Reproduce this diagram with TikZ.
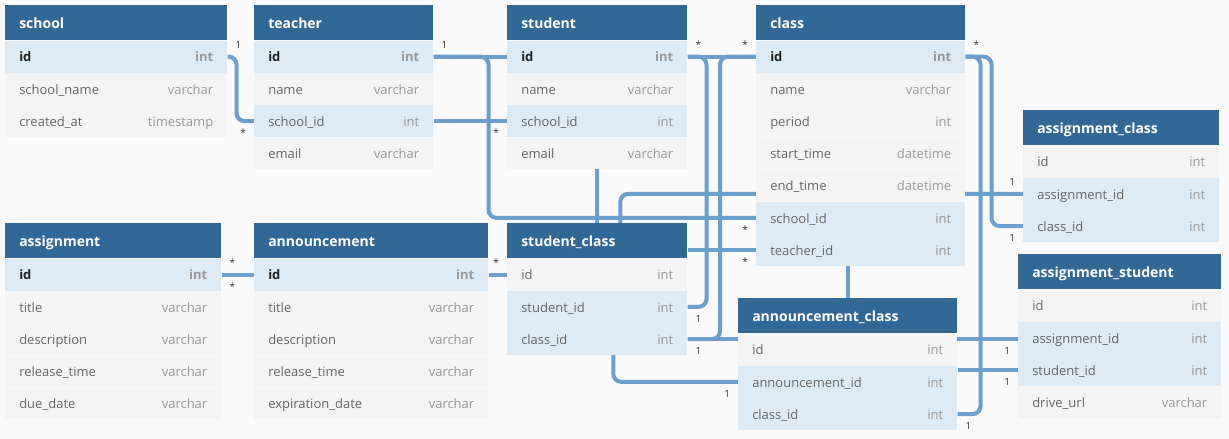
\documentclass[tikz,border=0pt]{standalone}
\usepackage{xcolor}
\usepackage{fontspec}
\setmainfont{Open Sans}
\usepackage{tikz}
\usetikzlibrary{positioning,calc}

\definecolor{hdrblue}{HTML}{316896}
\definecolor{keyrow}{HTML}{DEEBF5}
\definecolor{plainrow}{HTML}{F4F4F4}
\definecolor{canvas}{HTML}{FAFAFA}
\definecolor{linkblue}{HTML}{6B9FCF}
\definecolor{typegray}{HTML}{999999}
\definecolor{namegray}{HTML}{666666}
\definecolor{keytext}{HTML}{222222}
\definecolor{cardtext}{HTML}{333333}

\pgfdeclarelayer{bg}
\pgfsetlayers{bg,main}

\newcommand\dbtable[5]{%
  \pgfmathsetlengthmacro\tabw{#4*0.75pt}%
  \pgfmathsetlengthmacro\txtw{(#4-28)*0.75pt}%
  \node[tblhead, minimum width=\tabw, alias=#1-0] (#1) at (#3) {\makebox[\txtw][l]{#2}};
  \foreach \fld/\typ/\knd [count=\i] in {#5} {
    \pgfmathtruncatemacro\j{\i-1}
    \node[row\knd, minimum width=\tabw, below=0pt of #1-\j] (#1-\i)
      {\makebox[\txtw]{\fld\hfill\textcolor{typegray}{\typ}}};
  }%
}

\begin{document}
\begin{tikzpicture}[x=0.75pt, y=-0.75pt,
    tblhead/.style={anchor=north west, fill=hdrblue, text=white,
      font=\fontsize{10.5}{12}\selectfont\bfseries, minimum height=26.25pt,
      inner xsep=10.5pt, inner ysep=0pt, text height=9.5pt, text depth=1pt},
    rowbase/.style={minimum height=23.775pt, inner xsep=10.5pt, inner ysep=0pt,
      font=\fontsize{9.75}{11}\selectfont, text height=9pt, text depth=1pt},
    rowk/.style={rowbase, fill=keyrow, text=keytext,
      font=\fontsize{9.75}{11}\selectfont\bfseries},
    rowf/.style={rowbase, fill=keyrow, text=namegray},
    rown/.style={rowbase, fill=plainrow, text=namegray},
    link/.style={draw=linkblue, line width=3pt, rounded corners=6pt},
    card/.style={font=\fontsize{7.5}{8}\selectfont, text=cardtext, inner sep=4.5pt}]

    \useasboundingbox (0,0) rectangle (1229,439);

    \dbtable{school}{school}{5,5}{222}{id/int/k, school\_name/varchar/n, created\_at/timestamp/n}
    \dbtable{teacher}{teacher}{254,5}{179}{id/int/k, name/varchar/n, school\_id/int/f, email/varchar/n}
    \dbtable{student}{student}{507,5}{180}{id/int/k, name/varchar/n, school\_id/int/f, email/varchar/n}
    \dbtable{class}{class}{756,5}{209}{id/int/k, name/varchar/n, period/int/n, start\_time/datetime/n,
      end\_time/datetime/n, school\_id/int/f, teacher\_id/int/f}
    \dbtable{ascl}{assignment\_class}{1023,110}{196}{id/int/n, assignment\_id/int/f, class\_id/int/f}

    \dbtable{asgn}{assignment}{5,223}{216}{id/int/k, title/varchar/n, description/varchar/n,
      release\_time/varchar/n, due\_date/varchar/n}
    \dbtable{annc}{announcement}{254,223}{234}{id/int/k, title/varchar/n, description/varchar/n,
      release\_time/varchar/n, expiration\_date/varchar/n}
    \dbtable{stcl}{student\_class}{507,223}{180}{id/int/n, student\_id/int/f, class\_id/int/f}
    \dbtable{ancl}{announcement\_class}{738,298}{219}{id/int/n, announcement\_id/int/f, class\_id/int/f}
    \dbtable{asst}{assignment\_student}{1018,254}{203}{id/int/n, assignment\_id/int/f,
      student\_id/int/f, drive\_url/varchar/n}

    \begin{pgfonlayer}{bg}
      \fill[canvas] (0,0) rectangle (1229,439);

      \draw[link] (school-1.east) node[card, above right] {1} -- ++(9,0)
        |- (teacher-3.west) node[card, below left] {*};
      \draw[link] (teacher-3.east) -- (student-3.west) node[card, below left] {*};
      \draw[link] (teacher-1.east) node[card, above right] {1} -- (student-1.west);
      \draw[link] (teacher-1.east) -- ++(55,0) |- (class-6.west) node[card, below left] {*};

      \draw[link] (student-1.east) node[card, above right] {*}
        -- (class-1.west) node[card, above left] {*};
      \draw[link] (student-1.east) -- ++(19,0) |- (stcl-2.east) node[card, below right] {1};
      \draw[link] (class-1.west) -- ++(-36,0) |- (stcl-3.east) node[card, below right] {1};
      \draw[link] (student-4.south) -- (stcl.north);
      \draw[link] (ascl-2.west) node[card, above left] {1} -| ($(stcl.north)+(23,0)$);
      \draw[link] (stcl.east |- class-7.west) -- (class-7.west) node[card, below left] {*};
      \draw[link] (ancl.north) -- (ancl.north |- class-7.south);

      \draw[link] (class-1.east) node[card, above right] {*} -- ++(15,0)
        |- (ancl-3.east) node[card, below right] {1};
      \draw[link] (class-1.east) -- ++(26,0) |- (ascl-3.west) node[card, below left] {1};

      \draw[link] (stcl-3.east) -- (asst-2.west |- stcl-3.east) node[card, below left] {1};
      \draw[link] (ancl.east |- asst-3.west) -- (asst-3.west) node[card, below left] {1};
      \draw[link] (ancl-2.west) node[card, below left] {1} -| ($(stcl-3.south)+(16,0)$);

      \draw[link] (asgn-1.east) node[card, above right] {*} node[card, below right] {*}
        -- (annc-1.west);
      \draw[link] (annc-1.east) -- (stcl-1.west) node[card, above left] {*};
    \end{pgfonlayer}

\end{tikzpicture}
\end{document}
